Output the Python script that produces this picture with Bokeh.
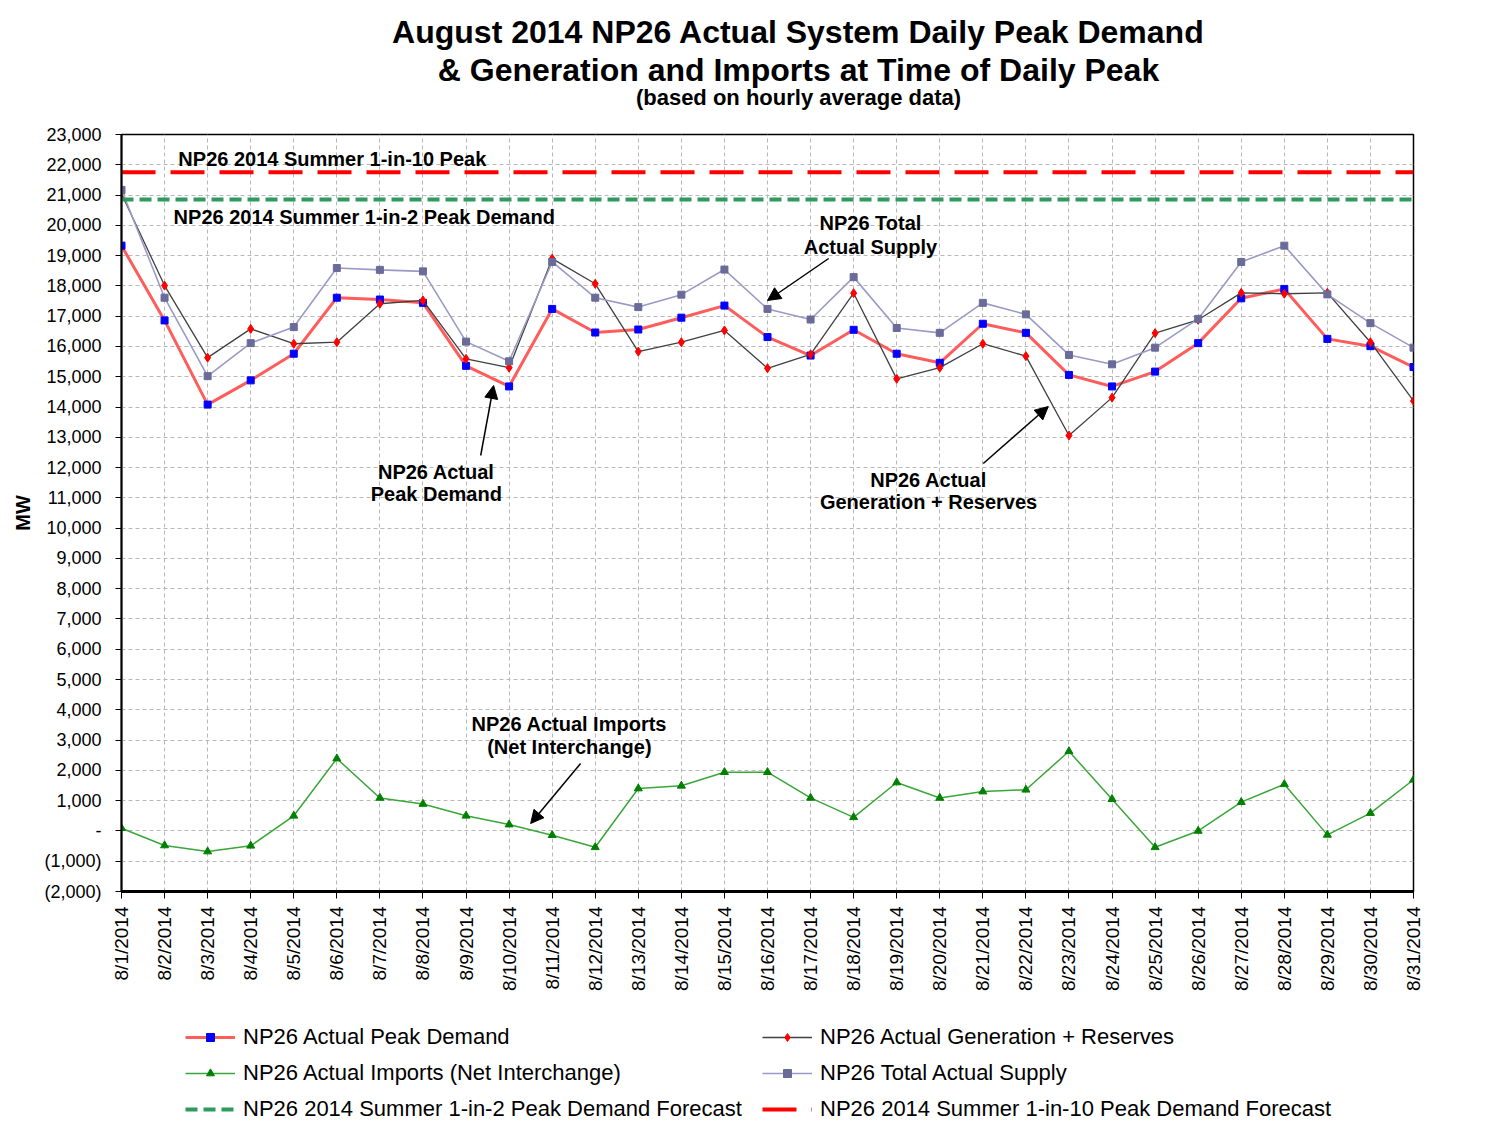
import math
from bokeh.plotting import figure
from bokeh.layouts import column
from bokeh.models import (Range1d, FixedTicker, Label, Arrow, NormalHead,
                          Legend, LegendItem)
from bokeh.embed import file_html
from bokeh.resources import INLINE

# ---------------- data ----------------
day_labels = ["8/%d/2014" % d for d in range(1, 32)]
day_index = list(range(len(day_labels)))

peak_demand = [19330, 16860, 14080, 14880, 15760, 17610, 17550, 17440, 15360, 14680,
               17240, 16460, 16560, 16950, 17350, 16310, 15700, 16550, 15760, 15460,
               16750, 16450, 15060, 14680, 15170, 16110, 17590, 17900, 16250, 16010, 15320]

gen_reserves = [21040, 18010, 15630, 16580, 16090, 16140, 17410, 17520, 15590, 15300,
                18900, 18070, 15830, 16140, 16530, 15280, 15740, 17760, 14930, 15300,
                16090, 15680, 13060, 14310, 16440, 16880, 17770, 17740, 17770, 16140, 14200]

imports = [90, -480, -680, -490, 500, 2390, 1090, 890, 500, 210,
           -140, -540, 1400, 1490, 1940, 1940, 1090, 450, 1600, 1090,
           1300, 1360, 2630, 1050, -540, 0, 950, 1540, -130, 590, 1690]

total_supply = [21170, 17610, 15020, 16110, 16640, 18590, 18530, 18480, 16160, 15510,
                18790, 17610, 17300, 17710, 18540, 17240, 16890, 18290, 16610, 16450,
                17440, 17060, 15720, 15410, 15960, 16910, 18790, 19330, 17720, 16770, 15960]

one_in_two_forecast = 20850
one_in_ten_forecast = 21750

y_ticks = list(range(-2000, 23001, 1000))
y_tick_labels = ["(2,000)", "(1,000)", "-", "1,000", "2,000", "3,000", "4,000", "5,000",
                 "6,000", "7,000", "8,000", "9,000", "10,000", "11,000", "12,000", "13,000",
                 "14,000", "15,000", "16,000", "17,000", "18,000", "19,000", "20,000",
                 "21,000", "22,000", "23,000"]

title_lines = ["August 2014 NP26 Actual System Daily Peak Demand",
               "& Generation and Imports at Time of Daily Peak"]
subtitle = "(based on hourly average data)"

FONT = "Liberation Sans"
W = 1469
FRAME_L, FRAME_R = 121, 1413   # page pixels of the plot frame (shared by the column)

# ---------------- series styles ----------------
styles = {
    "pd": dict(line=dict(line_color="#ff5c5c", line_width=3),
               mark=dict(marker="square", size=7, fill_color="#0000ff", line_color="#0000ff")),
    "gr": dict(line=dict(line_color="#404040", line_width=1.3),
               mark=dict(marker="diamond", size=9, fill_color="#ff0000", line_color="#ff0000")),
    "im": dict(line=dict(line_color="#3aa63a", line_width=1.5),
               mark=dict(marker="triangle", size=8, fill_color="#008000", line_color="#008000")),
    "ts": dict(line=dict(line_color="#9a9ac8", line_width=1.6),
               mark=dict(marker="square", size=7, fill_color="#6b6b99", line_color="#6b6b99")),
}
two_style = dict(line_color="#2f9a5f", line_width=4, line_dash="12 6")
ten_style = dict(line_color="#ff0000", line_width=4, line_dash="34 15")
series = {"pd": peak_demand, "gr": gen_reserves, "im": imports, "ts": total_supply}


def bare(fig):
    fig.outline_line_color = None
    fig.min_border = 0
    fig.xgrid.visible = False
    fig.ygrid.visible = False
    return fig


# ---------------- title strip ----------------
TH = 120
tf = bare(figure(width=W, height=TH, output_backend="svg", toolbar_location=None,
                 x_range=Range1d(FRAME_L, FRAME_R), y_range=Range1d(TH, 0),
                 x_axis_type=None, y_axis_type=None, min_border=0))
for txt, yy, fs in [(title_lines[0], 31, "32px"), (title_lines[1], 69, "32px"),
                    (subtitle, 97, "22px")]:
    tf.add_layout(Label(x=798, y=yy, text=txt, text_align="center", text_baseline="middle",
                        text_font=FONT, text_font_size=fs, text_font_style="bold",
                        text_color="black"))

# ---------------- main plot ----------------
p = figure(width=W, height=875, output_backend="svg", toolbar_location=None,
           x_range=Range1d(0, 30), y_range=Range1d(-2000, 23000),
           min_border_left=121, min_border_right=56, min_border_top=14,
           min_border_bottom=104, background_fill_color="white",
           border_fill_color="white")
p.outline_line_color = "black"
p.outline_line_width = 1.5

for g in (p.xgrid, p.ygrid):
    g.grid_line_color = "#b8b8b8"
    g.grid_line_dash = "4 3"
    g.grid_line_width = 1

p.xaxis.ticker = FixedTicker(ticks=day_index)
p.xaxis.major_label_overrides = {i: s for i, s in zip(day_index, day_labels)}
p.xaxis.major_label_orientation = math.pi / 2
p.xaxis.major_label_text_font = FONT
p.xaxis.major_label_text_font_size = "19px"
p.xaxis.major_label_text_color = "black"
p.xaxis.axis_line_width = 3
p.xaxis.axis_line_color = "black"
p.xaxis.major_tick_out = 7
p.xaxis.major_tick_in = 0
p.xaxis.minor_tick_line_color = None
p.xaxis.major_label_standoff = 8

p.yaxis.ticker = FixedTicker(ticks=y_ticks)
p.yaxis.major_label_overrides = {v: s for v, s in zip(y_ticks, y_tick_labels)}
p.yaxis.major_label_text_font = FONT
p.yaxis.major_label_text_font_size = "18px"
p.yaxis.major_label_text_color = "black"
p.yaxis.axis_line_width = 2
p.yaxis.axis_line_color = "black"
p.yaxis.major_tick_out = 6
p.yaxis.major_tick_in = 0
p.yaxis.minor_tick_line_color = None
p.yaxis.major_label_standoff = 14
p.yaxis.axis_label = "MW"
p.yaxis.axis_label_text_font = FONT
p.yaxis.axis_label_text_font_style = "bold"
p.yaxis.axis_label_text_font_size = "20px"
p.yaxis.axis_label_text_color = "black"
p.yaxis.axis_label_standoff = 7

for key in ["pd", "gr", "im", "ts"]:
    p.line(day_index, series[key], **styles[key]["line"])
    p.scatter(day_index, series[key], **styles[key]["mark"])
p.line(day_index, [one_in_two_forecast] * len(day_index), **two_style)
p.line(day_index, [one_in_ten_forecast] * len(day_index), **ten_style)

ann = dict(text_font=FONT, text_font_size="20px", text_font_style="bold",
           text_color="black", text_baseline="middle")
p.add_layout(Label(x=1.32, y=22207, text="NP26 2014 Summer 1-in-10 Peak",
                   text_align="left", **ann))
p.add_layout(Label(x=1.21, y=20259, text="NP26 2014 Summer 1-in-2 Peak Demand",
                   text_align="left", **ann))
for (xx, yy, txt) in [(17.39, 20061, "NP26 Total"), (17.39, 19301, "Actual Supply"),
                      (7.31, 11838, "NP26 Actual"), (7.31, 11111, "Peak Demand"),
                      (18.74, 11574, "NP26 Actual"), (18.74, 10847, "Generation + Reserves"),
                      (10.40, 3548, "NP26 Actual Imports"), (10.40, 2788, "(Net Interchange)")]:
    p.add_layout(Label(x=xx, y=yy, text=txt, text_align="center", **ann))

for (xs, ys, xe, ye) in [(16.42, 18905, 15.0, 17518),
                         (8.34, 12399, 8.64, 14711),
                         (20.01, 12135, 21.52, 14017),
                         (10.66, 2227, 9.50, 245)]:
    p.add_layout(Arrow(x_start=xs, y_start=ys, x_end=xe, y_end=ye, line_width=1.5,
                       line_color="black",
                       end=NormalHead(size=13, fill_color="black", line_color="black")))

# ---------------- legend strip ----------------
LH = 130
lf = bare(figure(width=W, height=LH, output_backend="svg", toolbar_location=None,
                 x_range=Range1d(0, 1), y_range=Range1d(0, 1),
                 x_axis_type=None, y_axis_type=None, min_border=0))
lr = {}
for key in ["pd", "gr", "im", "ts"]:
    lr[key] = [lf.line(day_index, series[key], visible=False, **styles[key]["line"]),
               lf.scatter(day_index, series[key], visible=False, **styles[key]["mark"])]
lr["two"] = [lf.line(day_index, [one_in_two_forecast] * len(day_index), visible=False,
                     **two_style)]
lr["ten"] = [lf.line(day_index, [one_in_ten_forecast] * len(day_index), visible=False,
                     **ten_style)]

leg_common = dict(label_text_font=FONT, label_text_font_size="22px",
                  label_text_color="black", glyph_width=50, glyph_height=20,
                  label_height=20, spacing=10, label_standoff=8, padding=0, margin=0,
                  border_line_alpha=0, background_fill_alpha=0, inactive_fill_alpha=0)
leg1 = Legend(items=[
    LegendItem(label="NP26 Actual Peak Demand", renderers=lr["pd"]),
    LegendItem(label="NP26 Actual Imports (Net Interchange)", renderers=lr["im"]),
    LegendItem(label="NP26 2014 Summer 1-in-2 Peak Demand Forecast", renderers=lr["two"]),
], location=(185 - FRAME_L, 3), **leg_common)
leg2 = Legend(items=[
    LegendItem(label="NP26 Actual Generation + Reserves", renderers=lr["gr"]),
    LegendItem(label="NP26 Total Actual Supply", renderers=lr["ts"]),
    LegendItem(label="NP26 2014 Summer 1-in-10 Peak Demand Forecast", renderers=lr["ten"]),
], location=(762 - FRAME_L, 3), **leg_common)
lf.add_layout(leg1)
lf.add_layout(leg2)

layout = column(tf, p, lf, spacing=0)
open("out.html", "w").write(file_html(layout, INLINE))
